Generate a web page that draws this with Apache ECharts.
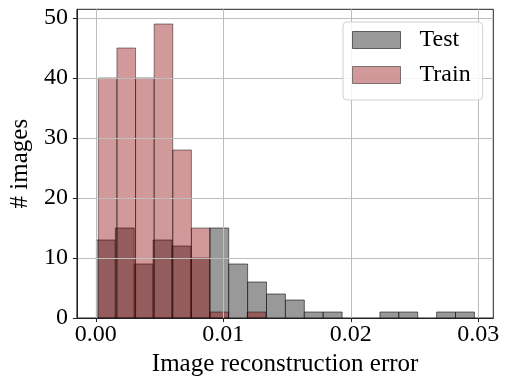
<!DOCTYPE html>
<html>
<head>
<meta charset="utf-8">
<script src="https://cdn.jsdelivr.net/npm/echarts@6/dist/echarts.min.js"></script>
<style>html,body{margin:0;padding:0;background:#fff}#c{width:505px;height:382px}</style>
</head>
<body>
<div id="c"></div>
<script>
// Histogram counts
const testCounts  = [13, 15, 9, 13, 12, 10, 15, 9, 6, 4, 3, 1, 1, 0, 0, 1, 1, 0, 1, 1];
const trainCounts = [40, 45, 40, 49, 28, 15, 1, 0, 1];
// Bin layout (start of first bin, bin width)
const testBinStart = 0.00005, testBinWidth = 0.0014825;
const trainBinStart = 0.0002, trainBinWidth = 0.00146;
const xTicks = [0, 0.01, 0.02, 0.03];
const yTicks = [0, 10, 20, 30, 40, 50];
const xRange = [-0.00148, 0.03118];
const yRange = [0, 51.45];

function toBins(counts, start, width) {
  return counts.map((c, i) => [start + i * width, start + (i + 1) * width, c]);
}

const FONT = '"Liberation Serif", "DejaVu Serif", serif';

function barRenderer(fill, stroke) {
  return function (params, api) {
    const y = api.value(2);
    if (!y) return null;
    const p0 = api.coord([api.value(0), y]);
    const p1 = api.coord([api.value(1), 0]);
    return {
      type: 'rect',
      shape: { x: p0[0], y: p0[1], width: p1[0] - p0[0], height: p1[1] - p0[1] },
      style: { fill: fill, stroke: stroke, lineWidth: 1 }
    };
  };
}

const testFill = 'rgba(128,128,128,0.8)', testStroke = 'rgba(0,0,0,0.55)';
const trainFill = 'rgba(139,0,0,0.4)', trainStroke = 'rgba(0,0,0,0.45)';

const chart = echarts.init(document.getElementById('c'), null, { renderer: 'canvas' });
chart.setOption({
  animation: false,
  grid: { left: 75.7, right: 11.7, top: 9.3, bottom: 59.7, show: true, borderColor: '#222', borderWidth: 1, backgroundColor: 'transparent' },
  legend: {
    z: 50,
    orient: 'vertical', left: 343, top: 22,
    padding: [6, 12, 13, 9],
    itemWidth: 48, itemHeight: 17, itemGap: 11,
    backgroundColor: 'rgba(255,255,255,0.85)', borderColor: '#d0d0d0', borderWidth: 1, borderRadius: 4,
    textStyle: { fontFamily: FONT, fontSize: 24, color: '#000', padding: [0, 0, 0, 14] },
    data: [
      { name: 'Test', icon: 'rect', itemStyle: { color: testFill, borderColor: testStroke, borderWidth: 1 } },
      { name: 'Train', icon: 'rect', itemStyle: { color: trainFill, borderColor: trainStroke, borderWidth: 1 } }
    ]
  },
  xAxis: {
    type: 'value', min: xRange[0], max: xRange[1], z: 10,
    name: 'Image reconstruction error', nameLocation: 'middle', nameGap: 34,
    nameTextStyle: { fontFamily: FONT, fontSize: 25, color: '#000' },
    axisLine: { show: true, onZero: false, lineStyle: { color: '#222', width: 1 } },
    axisTick: { show: true, length: 4, lineStyle: { color: '#222' }, customValues: xTicks },
    axisLabel: { customValues: xTicks, fontFamily: FONT, fontSize: 24, color: '#000', margin: 5,
      formatter: v => v.toFixed(2) },
    splitLine: { show: true, lineStyle: { color: '#bdbdbd', width: 1 } }
  },
  yAxis: {
    type: 'value', min: yRange[0], max: yRange[1], z: 10,
    name: '# images', nameLocation: 'middle', nameGap: 40, nameRotate: 90,
    nameTextStyle: { fontFamily: FONT, fontSize: 25, color: '#000' },
    axisLine: { show: true, onZero: false, lineStyle: { color: '#222', width: 1 } },
    axisTick: { show: true, length: 4, lineStyle: { color: '#222' }, customValues: yTicks },
    axisLabel: { customValues: yTicks, fontFamily: FONT, fontSize: 24, color: '#000', margin: 9 },
    splitLine: { show: true, lineStyle: { color: '#bdbdbd', width: 1 } }
  },
  series: [
    { name: 'Test', type: 'custom', renderItem: barRenderer(testFill, testStroke),
      encode: { x: [0, 1], y: 2 }, itemStyle: { color: testFill },
      data: toBins(testCounts, testBinStart, testBinWidth) },
    { name: 'Train', type: 'custom', renderItem: barRenderer(trainFill, trainStroke),
      encode: { x: [0, 1], y: 2 }, itemStyle: { color: trainFill },
      data: toBins(trainCounts, trainBinStart, trainBinWidth) }
  ]
});
</script>
</body>
</html>
